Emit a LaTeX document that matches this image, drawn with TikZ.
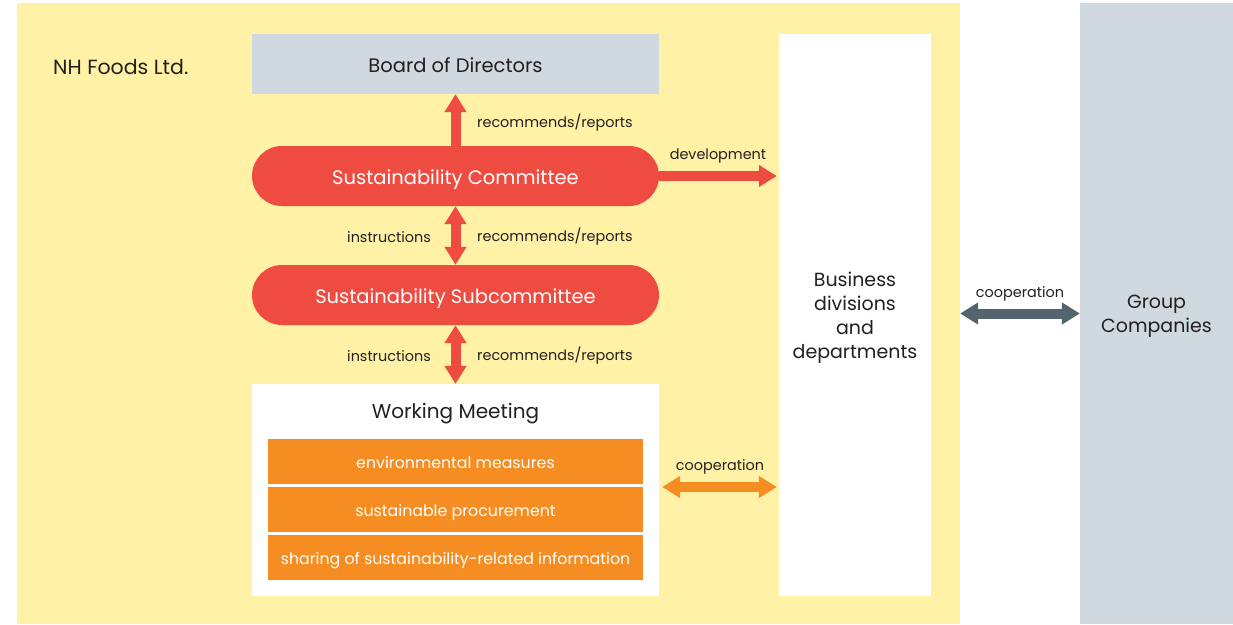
\documentclass[tikz,border=0pt]{standalone}
\usepackage{fontspec}
\setmainfont{Poppins}
\usetikzlibrary{arrows.meta, positioning}
\definecolor{nhyellow}{HTML}{FFF2A6}
\definecolor{nhgrey}{HTML}{CFD9DF}
\definecolor{nhred}{HTML}{EF4C41}
\definecolor{nhorange}{HTML}{F58D22}
\definecolor{nhslate}{HTML}{52646E}
\definecolor{nhtext}{HTML}{231F20}

\begin{document}
\begin{tikzpicture}[x=1pt, y=-1pt, inner sep=0pt, text=nhtext,
    box/.style={minimum width=407pt, minimum height=60pt, text height=17pt, text depth=0pt,
                font=\fontsize{19.5}{22}\selectfont},
    pill/.style={box, fill=nhred, text=white, rounded corners=30pt},
    task/.style={fill=nhorange, text=white, minimum width=375pt, minimum height=45pt,
                 text height=14pt, text depth=0pt, font=\fontsize{15.8}{18}\selectfont},
    lbl/.style={font=\fontsize{14.4}{16}\selectfont},
    tip/.tip={Triangle[length=18pt, width=21pt]},
    fat/.style={line width=10pt, -tip},
    fatboth/.style={line width=10pt, tip-tip}]
    \useasboundingbox (0,0) rectangle (1233,624);
    \fill[white] (0,0) rectangle (1233,624);

    % frames
    \node[fill=nhyellow, minimum width=943pt, minimum height=621pt] (nh) at (488.5,313.5) {};
    \node[fill=nhgrey, minimum width=153pt, minimum height=621pt, align=center, text depth=0pt,
          font=\fontsize{19}{24}\selectfont] (group) at (1156.5,313.5) {Group\\Companies};
    \node[anchor=west, font=\fontsize{20.5}{22}\selectfont] (nhname) at (53,67) {NH Foods Ltd.};

    % bodies
    \node[box, fill=nhgrey] (board) at (455.5,64) {Board of Directors};
    \node[pill] (committee) at (455.5,176) {Sustainability Committee};
    \node[pill] (subcommittee) at (455.5,295) {Sustainability Subcommittee};
    \node[box, fill=white, minimum height=212pt] (wm) at (455.5,490) {};
    \node[font=\fontsize{20}{22}\selectfont] (wmtitle) at (455.5,414) {Working Meeting};
    \node[task] (env) at (455.5,461.5) {environmental measures};
    \node[task] (proc) at (455.5,509.5) {sustainable procurement};
    \node[task] (info) at (455.5,557.5) {sharing of sustainability-related information};
    \node[fill=white, minimum width=152pt, minimum height=562pt, align=center, text depth=0pt,
          font=\fontsize{19}{24}\selectfont] (biz) at (855,315) {Business\\divisions\\and\\departments};

    % connectors
    \draw[fat, nhred] (committee) -- (board);
    \draw[fatboth, nhred] (committee) -- (subcommittee);
    \draw[fatboth, nhred] (subcommittee) -- (wm);
    \draw[fat, nhred, shorten >=2pt] (committee.east) -- (committee.east -| biz.west);
    \draw[fatboth, nhorange, shorten <=3pt, shorten >=2pt] ([yshift=3pt]wm.east) -- ([yshift=3pt]wm.east -| biz.west);
    \draw[fatboth, nhslate] (nh.east |- group.west) -- (group.west);

    % labels
    \node[lbl, anchor=west] (rr1) at (477,123) {recommends/reports};
    \node[lbl, anchor=east] (in1) at (431,237) {instructions};
    \node[lbl, anchor=west] (rr2) at (477,237) {recommends/reports};
    \node[lbl, anchor=east] (in2) at (431,356) {instructions};
    \node[lbl, anchor=west] (rr3) at (477,356) {recommends/reports};
    \node[lbl] (dev) at (718,156) {development};
    \node[lbl] (coop1) at (720,467) {cooperation};
    \node[lbl] (coop2) at (1020,294) {cooperation};
\end{tikzpicture}
\end{document}
